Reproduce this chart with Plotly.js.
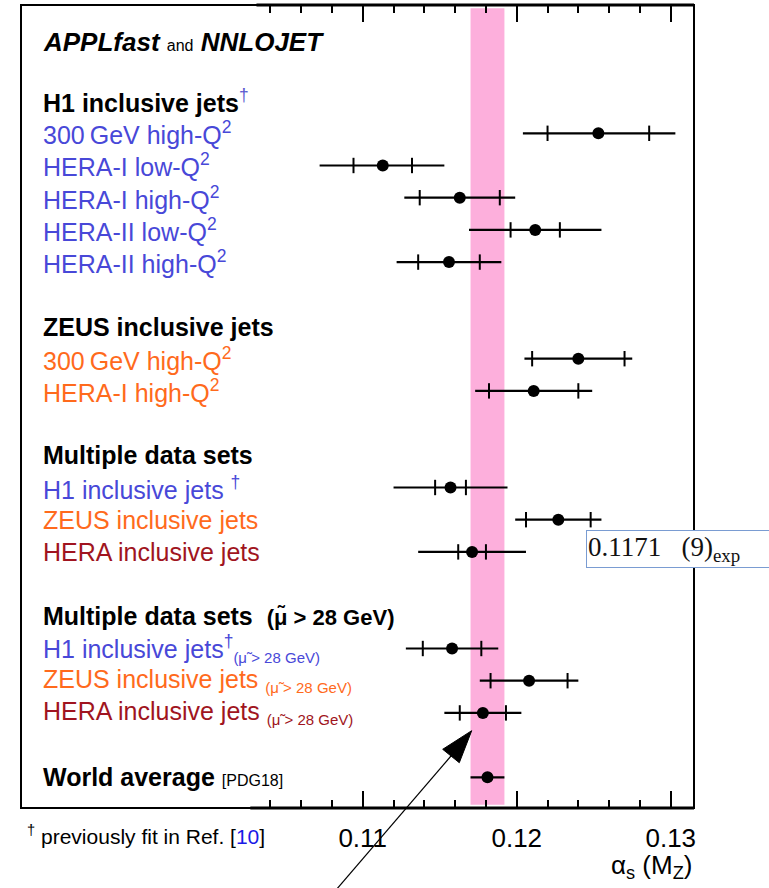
<!DOCTYPE html>
<html><head><meta charset="utf-8">
<script src="https://cdn.plot.ly/plotly-3.0.1.min.js"></script>
<style>html,body{margin:0;padding:0;background:#fff}#chart{width:769px;height:888px}</style>
</head><body><div id="chart"></div>
<script>
// ---- data ----
const categories = [
  'H1 inclusive jets', 'H1 300 GeV high-Q2', 'H1 HERA-I low-Q2', 'H1 HERA-I high-Q2',
  'H1 HERA-II low-Q2', 'H1 HERA-II high-Q2', 'gap1',
  'ZEUS inclusive jets', 'ZEUS 300 GeV high-Q2', 'ZEUS HERA-I high-Q2', 'gap2',
  'Multiple data sets', 'Multi H1', 'Multi ZEUS', 'Multi HERA', 'gap3',
  'Multiple data sets 28', 'Multi28 H1', 'Multi28 ZEUS', 'Multi28 HERA', 'gap4',
  'World average'
];
const MU = '\u03bc\u0303';
const labelText = [
  '<b>H1 inclusive jets</b><sup><span style="color:#5a5ad0">\u2020</span></sup>',
  '300\u2009GeV high-Q<sup>2</sup>', 'HERA-I low-Q<sup>2</sup>', 'HERA-I high-Q<sup>2</sup>',
  'HERA-II low-Q<sup>2</sup>', 'HERA-II high-Q<sup>2</sup>', '',
  '<b>ZEUS inclusive jets</b>', '300\u2009GeV high-Q<sup>2</sup>', 'HERA-I high-Q<sup>2</sup>', '',
  '<b>Multiple data sets</b>', 'H1 inclusive jets <sup>\u2020</sup>', 'ZEUS inclusive jets', 'HERA inclusive jets', '',
  '<b>Multiple data sets</b>  <b><span style="font-size:22px">(' + MU + ' > 28 GeV)</span></b>',
  'H1 inclusive jets<sup>\u2020</sup><sub><span style="font-size:15px">(' + MU + ' > 28 GeV)</span></sub>',
  'ZEUS inclusive jets <sub><span style="font-size:15px">(' + MU + ' > 28 GeV)</span></sub>',
  'HERA inclusive jets <sub><span style="font-size:15px">(' + MU + ' > 28 GeV)</span></sub>', '',
  '<b>World average</b> <span style="font-size:16px">[PDG18]</span>'
];
const labelGroup = [
  'head', 'H1', 'H1', 'H1', 'H1', 'H1', 'none',
  'head', 'ZEUS', 'ZEUS', 'none',
  'head', 'H1', 'ZEUS', 'HERA', 'none',
  'head', 'H1', 'ZEUS', 'HERA', 'none',
  'head'
];
const pointRows = [
  'H1 300 GeV high-Q2', 'H1 HERA-I low-Q2', 'H1 HERA-I high-Q2', 'H1 HERA-II low-Q2', 'H1 HERA-II high-Q2',
  'ZEUS 300 GeV high-Q2', 'ZEUS HERA-I high-Q2',
  'Multi H1', 'Multi ZEUS', 'Multi HERA',
  'Multi28 H1', 'Multi28 ZEUS', 'Multi28 HERA',
  'World average'
];
const alphaS     = [0.1253, 0.1113, 0.1163, 0.1212, 0.1156, 0.1240, 0.1211, 0.1157, 0.1227, 0.1171, 0.1158, 0.1208, 0.1178, 0.1181];
const expUnc     = [0.0033, 0.0019, 0.0026, 0.0016, 0.0020, 0.0030, 0.0029, 0.0010, 0.0021, 0.0009, 0.0019, 0.0025, 0.0015, null];
const totUncLow  = [0.0049, 0.0041, 0.0036, 0.0043, 0.0034, 0.0035, 0.0038, 0.0037, 0.0028, 0.0035, 0.0030, 0.0032, 0.0025, 0.0011];
const totUncHigh = [0.0050, 0.0040, 0.0036, 0.0043, 0.0034, 0.0035, 0.0038, 0.0037, 0.0028, 0.0035, 0.0030, 0.0032, 0.0025, 0.0011];
const worldAverage = 0.1181;
const worldAverageUnc = 0.0011;
const majorTicks = [0.11, 0.12, 0.13];
const majorTickLabels = ['0.11', '0.12', '0.13'];
const minorTicks = [0.104, 0.106, 0.108, 0.112, 0.114, 0.116, 0.118, 0.122, 0.124, 0.126, 0.128];
const highlightValue = '0.1171';
const highlightExp = '(9)';

// ---- styles ----
const FONT = 'Liberation Sans, Arial, Helvetica, sans-serif';
const groupColor = {head: '#000000', H1: '#4848d8', ZEUS: '#ff6a1c', HERA: '#a01420', none: '#000'};
const xRange = [0.08781, 0.13151];
const yRange = [21.953, -2.984];
const px = v => (v - 21) / 673;      // pixel -> paper x
const py = v => (808 - v) / 803;     // pixel -> paper y

const rowIndex = name => categories.indexOf(name);
const yPts = pointRows.map(rowIndex);

const tickX = [], tickY = [];
alphaS.forEach((v, i) => {
  if (expUnc[i] != null) {
    tickX.push(v - expUnc[i], v + expUnc[i]);
    tickY.push(yPts[i], yPts[i]);
  }
});

const traces = [
  {
    type: 'scatter', mode: 'markers', x: alphaS, y: yPts,
    marker: {size: 12, color: '#000'},
    error_x: {type: 'data', symmetric: false, array: totUncHigh, arrayminus: totUncLow,
              width: 0, thickness: 2.2, color: '#000'},
    hoverinfo: 'x', showlegend: false
  },
  {
    type: 'scatter', mode: 'markers', x: tickX, y: tickY,
    marker: {symbol: 'line-ns', size: 11, color: '#000', line: {width: 2, color: '#000'}},
    hoverinfo: 'x', showlegend: false
  },
  {
    type: 'scatter', mode: 'markers', x: [null], y: [null], xaxis: 'x2', yaxis: 'y',
    hoverinfo: 'skip', showlegend: false
  }
];

const annotations = [];
categories.forEach((c, i) => {
  if (!labelText[i]) return;
  annotations.push({
    xref: 'paper', yref: 'y', x: px(41), y: i, xanchor: 'left', yanchor: 'middle',
    text: labelText[i], showarrow: false,
    font: {family: FONT, size: 25, color: groupColor[labelGroup[i]]}
  });
});
annotations.push({
  xref: 'paper', yref: 'paper', x: px(41), y: py(41.7), xanchor: 'left', yanchor: 'middle',
  text: '<b><i>APPLfast</i></b> <span style="font-size:16px">and</span> <b><i>NNLOJET</i></b>',
  showarrow: false, font: {family: FONT, size: 26, color: '#000'}
});
annotations.push({
  xref: 'paper', yref: 'paper', x: 1, y: py(866), xanchor: 'right', yanchor: 'middle',
  text: '\u03b1<sub>s</sub> (M<sub>Z</sub>)', showarrow: false,
  font: {family: FONT, size: 26, color: '#000'}
});
annotations.push({
  xref: 'paper', yref: 'paper', x: px(25), y: py(835), xanchor: 'left', yanchor: 'middle',
  text: '<sup>\u2020</sup> previously fit in Ref. [<span style="color:#1a1ae6">10</span>]',
  showarrow: false, font: {family: FONT, size: 21, color: '#000'}
});
annotations.push({
  xref: 'paper', yref: 'paper', x: px(586), y: py(548.5), xanchor: 'left', yanchor: 'middle',
  text: highlightValue + '\u00a0\u00a0\u00a0' + highlightExp + '<sub>exp</sub>\u00a0\u00a0\u00a0\u00a0\u00a0\u00a0',
  showarrow: false, bgcolor: '#ffffff', bordercolor: '#7a9cd2', borderwidth: 1, borderpad: 1,
  font: {family: 'Liberation Serif, DejaVu Serif, serif', size: 27, color: '#111'}
});

const shapes = [
  {type: 'rect', xref: 'x', yref: 'paper', x0: worldAverage - worldAverageUnc, x1: worldAverage + worldAverageUnc,
   y0: 0.004, y1: 0.996, fillcolor: '#fdafdc', line: {width: 0}, layer: 'below'},
  {type: 'rect', xref: 'paper', yref: 'paper', x0: 0, x1: 1, y0: 0, y1: 1, line: {width: 2, color: '#000'}},
  {type: 'line', xref: 'x', yref: 'paper', x0: 0.1027, x1: xRange[1], y0: 0, y1: 0, line: {width: 3, color: '#000'}},
  {type: 'line', xref: 'x', yref: 'paper', x0: 0.1031, x1: xRange[1], y0: 1, y1: 1, line: {width: 3, color: '#000'}},
  {type: 'line', xref: 'paper', yref: 'paper', x0: px(336), y0: py(890), x1: px(451), y1: py(756), line: {width: 1.2, color: '#000'}},
  {type: 'path', xref: 'paper', yref: 'paper',
   path: 'M' + px(471.7) + ',' + py(730.7) + ' L' + px(442.7) + ',' + py(749.3) + ' L' + px(459.3) + ',' + py(762.7) + ' Z',
   fillcolor: '#000', line: {width: 1, color: '#000'}}
];

const tickStyle = {
  tickmode: 'array', tickvals: majorTicks, ticktext: majorTickLabels,
  ticks: 'inside', ticklen: 17, tickwidth: 2, tickcolor: '#000',
  showline: false, showgrid: false, zeroline: false,
  minor: {tickmode: 'array', tickvals: minorTicks, ticks: 'inside', ticklen: 8, tickwidth: 2, tickcolor: '#000', showgrid: false}
};

const layout = {
  width: 769, height: 888,
  margin: {l: 21, r: 75, t: 5, b: 80, pad: 0},
  paper_bgcolor: '#fff', plot_bgcolor: '#fff',
  showlegend: false,
  xaxis: Object.assign({}, tickStyle, {
    range: xRange,
    tickfont: {family: FONT, size: 26, color: '#000'}, ticklabelstandoff: 12
  }),
  xaxis2: Object.assign({}, tickStyle, {
    range: xRange, overlaying: 'x', side: 'top', anchor: 'y', showticklabels: false
  }),
  yaxis: {
    range: yRange, showticklabels: false, ticks: '', showgrid: false, zeroline: false, showline: false
  },
  annotations: annotations,
  shapes: shapes
};

Plotly.newPlot('chart', traces, layout, {staticPlot: true});
</script>
</body></html>
